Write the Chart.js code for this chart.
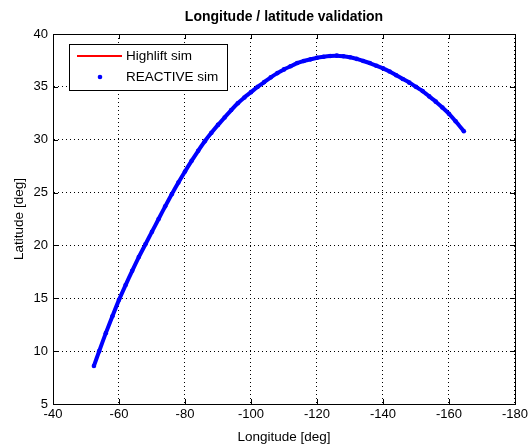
<!DOCTYPE html>
<html><head><meta charset="utf-8">
<style>html,body{margin:0;padding:0;background:#fff;}#wrap{width:531px;height:445px;}</style>
<script src="https://cdn.jsdelivr.net/npm/chart.js@4/dist/chart.umd.min.js"></script>
</head><body><div id="wrap"><canvas id="c" width="531" height="445"></canvas></div>
<script>
const lonDeg = [-52.4,-54,-56,-58,-60,-62,-64,-66,-68,-70,-72,-74,-76,-78,-80,-82,-84,-86,-88,-90,-92,-94,-96,-98,-100,-102,-104,-106,-108,-110,-112,-114,-116,-118,-120,-122,-124,-126,-128,-130,-132,-134,-136,-138,-140,-142,-144,-146,-148,-150,-152,-154,-156,-158,-160,-162,-164.5];
const latDeg = [8.6,10.0,11.7,13.3,14.85,16.25,17.6,18.9,20.1,21.3,22.5,23.7,24.85,25.95,27.0,28.0,28.95,29.85,30.65,31.4,32.1,32.8,33.45,34.0,34.5,35.0,35.45,35.9,36.3,36.65,36.95,37.25,37.45,37.6,37.75,37.85,37.92,37.95,37.9,37.8,37.65,37.45,37.25,37.0,36.75,36.45,36.1,35.75,35.4,35.0,34.6,34.1,33.6,33.05,32.45,31.75,30.8];
const seriesNames = ['Highlift sim', 'REACTIVE sim'];
const xTickValues = [-40,-60,-80,-100,-120,-140,-160,-180];
const yTickValues = [5,10,15,20,25,30,35,40];
const titleText = 'Longitude / latitude validation';
const xTitle = 'Longitude [deg]';
const yTitle = 'Latitude [deg]';

const FONT = "'Liberation Sans', Arial, Helvetica, sans-serif";
const pts = lonDeg.map((x, i) => ({x: x, y: latDeg[i]}));

const boxPlugin = {
  id: 'boxPlugin',
  afterDraw(chart) {
    const {ctx, chartArea: a, scales: {x, y}} = chart;
    ctx.save();
    ctx.strokeStyle = '#000';
    ctx.lineWidth = 1;
    ctx.setLineDash([]);
    const tl = 5;
    ctx.beginPath();
    xTickValues.forEach(v => {
      const px = Math.round(x.getPixelForValue(v)) + 0.5;
      ctx.moveTo(px, a.bottom); ctx.lineTo(px, a.bottom - tl);
      ctx.moveTo(px, a.top); ctx.lineTo(px, a.top + tl);
    });
    yTickValues.forEach(v => {
      const py = Math.round(y.getPixelForValue(v)) + 0.5;
      ctx.moveTo(a.left, py); ctx.lineTo(a.left + tl, py);
      ctx.moveTo(a.right, py); ctx.lineTo(a.right - tl, py);
    });
    ctx.stroke();
    ctx.strokeRect(Math.round(a.left) + 0.5, Math.round(a.top) + 0.5, Math.round(a.right - a.left), Math.round(a.bottom - a.top));

    ctx.fillStyle = '#000';
    ctx.font = 'bold 14px ' + FONT;
    ctx.textAlign = 'center';
    ctx.textBaseline = 'middle';
    ctx.fillText(titleText, (a.left + a.right) / 2, 17);

    const lx = Math.round(a.left) + 16, ly = Math.round(a.top) + 10, lw = 158, lh = 46;
    ctx.fillStyle = '#fff';
    ctx.fillRect(lx, ly, lw, lh);
    ctx.strokeRect(lx + 0.5, ly + 0.5, lw, lh);
    const ds = chart.data.datasets;
    ctx.strokeStyle = ds[0].borderColor;
    ctx.lineWidth = 2;
    ctx.beginPath(); ctx.moveTo(lx + 8, ly + 12); ctx.lineTo(lx + 53, ly + 12); ctx.stroke();
    ctx.fillStyle = ds[1].pointBackgroundColor;
    ctx.beginPath(); ctx.arc(lx + 31, ly + 33, 2.3, 0, Math.PI * 2); ctx.fill();
    ctx.fillStyle = '#000';
    ctx.font = '13.5px ' + FONT;
    ctx.textBaseline = 'middle';
    ctx.textAlign = 'left';
    ctx.fillText(ds[0].label, lx + 57, ly + 12);
    ctx.fillText(ds[1].label, lx + 57, ly + 33);
    ctx.restore();
  }
};

new Chart(document.getElementById('c'), {
  type: 'scatter',
  data: {
    datasets: [
      {
        label: seriesNames[0],
        data: pts,
        showLine: true,
        borderColor: '#ff0000',
        borderWidth: 2,
        pointRadius: 0,
        tension: 0.2,
        order: 2
      },
      {
        label: seriesNames[1],
        data: pts,
        showLine: true,
        borderColor: '#0000ff',
        borderWidth: 4,
        pointRadius: 2.3,
        pointStyle: 'circle',
        pointBackgroundColor: '#0000ff',
        pointBorderColor: '#0000ff',
        pointBorderWidth: 0,
        tension: 0.2,
        order: 1
      }
    ]
  },
  options: {
    responsive: false,
    animation: false,
    devicePixelRatio: 1,
    layout: {padding: {top: 34, right: 16, left: 0, bottom: 0}},
    plugins: {
      legend: {display: false},
      tooltip: {enabled: false},
      title: {display: false}
    },
    scales: {
      x: {
        type: 'linear',
        reverse: true,
        min: -180,
        max: -40,
        afterBuildTicks(s) { s.ticks = xTickValues.map(v => ({value: v})); },
        afterFit(s) { s.height = 41; },
        ticks: {color: '#000', font: {family: FONT, size: 13}, padding: 3, maxRotation: 0, autoSkip: false,
                callback: v => String(v)},
        grid: {color: '#000', lineWidth: 1, drawTicks: false},
        border: {display: true, color: '#000', width: 1, dash: [1, 3]},
        title: {display: true, text: xTitle, color: '#000', font: {family: FONT, size: 13.5, lineHeight: 1.2}, padding: {top: 4, bottom: 0}}
      },
      y: {
        type: 'linear',
        min: 5,
        max: 40,
        afterBuildTicks(s) { s.ticks = yTickValues.map(v => ({value: v})); },
        afterFit(s) { s.width = 53; },
        ticks: {color: '#000', font: {family: FONT, size: 13}, padding: 5, autoSkip: false,
                callback: v => String(v)},
        grid: {color: '#000', lineWidth: 1, drawTicks: false},
        border: {display: true, color: '#000', width: 1, dash: [1, 3]},
        title: {display: true, text: yTitle, color: '#000', font: {family: FONT, size: 13.5, lineHeight: 1.2}, padding: {top: 11, bottom: 0}}
      }
    }
  },
  plugins: [boxPlugin]
});
</script>
</body></html>
